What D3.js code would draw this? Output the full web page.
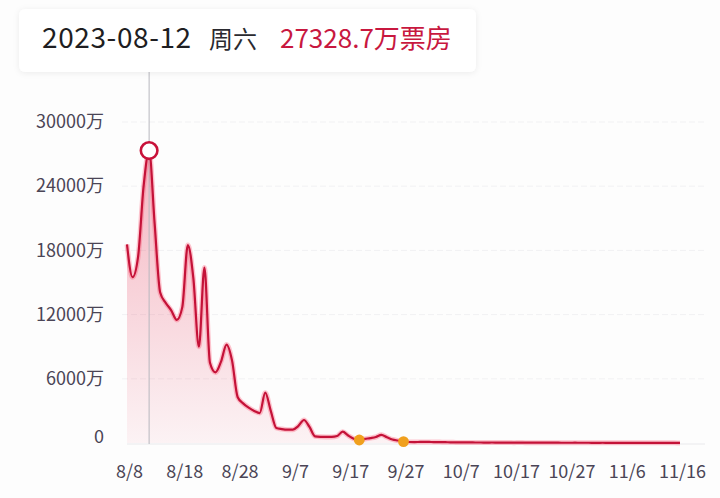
<!DOCTYPE html>
<html>
<head>
<meta charset="utf-8">
<script src="https://cdn.jsdelivr.net/npm/d3@7/dist/d3.min.js"></script>
<style>
  html, body { margin: 0; padding: 0; background: #fdfdfd; }
  svg { display: block; }
  text { font-family: "Noto Sans CJK SC", "Noto Sans", sans-serif; }
</style>
</head>
<body>
<svg id="chart" width="720" height="498"></svg>
<script>
// ---------- data ----------
const startDate = "2023-08-08";
// daily box office (万元), 8/8 .. 11/16
const boxOffice = [
  18560, 15500, 17400, 24000, 27328.7, 20500, 14060, 13100, 12400, 11500,
  12700, 18500, 15400, 9000, 16400, 7500, 6600, 7600, 9200, 7700,
  4300, 3700, 3300, 3000, 2800, 4700, 3000, 1400, 1300, 1250,
  1250, 1600, 2150, 1500, 620, 580, 570, 570, 650, 1060,
  700, 400, 280, 380, 460, 560, 760, 540, 330, 230,
  130, 95, 90, 100, 105, 95, 85, 80, 70, 60,
  55, 50, 52, 48, 45, 42, 45, 40, 38, 36,
  35, 38, 34, 32, 30, 28, 30, 27, 26, 25,
  24, 26, 23, 22, 21, 20, 22, 19, 18, 18,
  17, 18, 16, 15, 15, 14, 15, 13, 12, 12,
  11
];
const xTickLabels = ["8/8", "8/18", "8/28", "9/7", "9/17", "9/27", "10/7", "10/17", "10/27", "11/6", "11/16"];
const yTickValues = [0, 6000, 12000, 18000, 24000, 30000];
const yTickLabels = ["0", "6000万", "12000万", "18000万", "24000万", "30000万"];
const highlightDate = "2023-08-12";
const highlightWeekday = "周六";
const highlightValue = 27328.7;
const markerDates = ["2023-09-19", "2023-09-27"];

// ---------- setup ----------
const parse = d3.timeParse("%Y-%m-%d");
const t0 = parse(startDate);
const data = boxOffice.map((v, i) => ({ date: d3.timeDay.offset(t0, i), value: v }));
const tickDates = xTickLabels.map(s => { const [m, d] = s.split("/").map(Number); return new Date(2023, m - 1, d); });

const svg = d3.select("#chart");
const x = d3.scaleTime().domain([tickDates[0], tickDates[tickDates.length - 1]]).range([127, 680]);
const y = d3.scaleLinear().domain([0, 30000]).range([443, 122]);

const defs = svg.append("defs");
const grad = defs.append("linearGradient").attr("id", "areaGrad")
  .attr("gradientUnits", "userSpaceOnUse").attr("x1", 0).attr("x2", 0).attr("y1", 150).attr("y2", 443);
grad.append("stop").attr("offset", 0).attr("stop-color", "rgb(228,40,75)").attr("stop-opacity", 0.34);
grad.append("stop").attr("offset", 1).attr("stop-color", "rgb(228,40,75)").attr("stop-opacity", 0.05);

const shadow = defs.append("filter").attr("id", "shadow").attr("x", "-10%").attr("y", "-40%").attr("width", "120%").attr("height", "180%");
shadow.append("feDropShadow").attr("dx", 0).attr("dy", 1).attr("stdDeviation", 3)
  .attr("flood-color", "#000").attr("flood-opacity", 0.07);

// ---------- grid ----------
const yAxis = d3.axisLeft(y).tickValues(yTickValues).tickSize(0).tickPadding(0)
  .tickFormat((d, i) => yTickLabels[i]);
const gy = svg.append("g").attr("transform", "translate(104,0)").call(yAxis);
gy.select(".domain").remove();
gy.selectAll("text").attr("font-size", 18).attr("fill", "#4b4556").attr("text-anchor", "end")
  .attr("dy", d => d === 0 ? "-0.05em" : "0.32em");

svg.append("g").selectAll("line").data(yTickValues.filter(v => v > 0)).join("line")
  .attr("x1", 122).attr("x2", 705).attr("y1", d => y(d)).attr("y2", d => y(d))
  .attr("stroke", "#f1f1f3").attr("stroke-width", 1).attr("stroke-dasharray", "6,3");
svg.append("line").attr("x1", 127).attr("x2", 705).attr("y1", y(0) + 1).attr("y2", y(0) + 1)
  .attr("stroke", "#e9e9ec").attr("stroke-width", 1);

const xAxis = d3.axisBottom(x).tickValues(tickDates).tickSize(0).tickPadding(0)
  .tickFormat((d, i) => xTickLabels[i]);
const gx = svg.append("g").attr("transform", "translate(2,472)").call(xAxis);
gx.select(".domain").remove();
gx.selectAll("text").attr("font-size", 18).attr("fill", "#4b4556").attr("dy", "0.32em");

// ---------- area & line ----------
const area = d3.area().x(d => x(d.date)).y0(y(0)).y1(d => y(d.value)).curve(d3.curveMonotoneX);
const line = d3.line().x(d => x(d.date)).y(d => y(d.value)).curve(d3.curveMonotoneX);

svg.append("path").datum(data).attr("d", area).attr("fill", "url(#areaGrad)");

// crosshair
const hx = x(parse(highlightDate));
svg.append("line").attr("x1", hx).attr("x2", hx).attr("y1", 72).attr("y2", y(0) + 1)
  .attr("stroke", "#b8b8be").attr("stroke-width", 1);

svg.append("path").datum(data).attr("d", line).attr("fill", "none")
  .attr("stroke", "#ff3355").attr("stroke-opacity", 0.28).attr("stroke-width", 5).attr("stroke-linejoin", "round");
svg.append("path").datum(data).attr("d", line).attr("fill", "none")
  .attr("stroke", "#c41238").attr("stroke-width", 2.2).attr("stroke-linejoin", "round");

// markers
const markers = markerDates.map(s => data.find(d => +d.date === +parse(s)));
svg.append("g").selectAll("circle").data(markers).join("circle")
  .attr("cx", d => x(d.date)).attr("cy", d => y(d.value)).attr("r", 5.4)
  .attr("fill", "#f0a01e");

svg.append("circle").attr("cx", hx).attr("cy", y(highlightValue)).attr("r", 8.3)
  .attr("fill", "#fff").attr("stroke", "#c8123a").attr("stroke-width", 2.6);

// ---------- tooltip ----------
svg.append("rect").attr("x", 19).attr("y", 9).attr("width", 457).attr("height", 63).attr("rx", 6)
  .attr("fill", "#fff").attr("filter", "url(#shadow)");
svg.append("text").attr("x", 42).attr("y", 48).attr("font-size", 28).attr("letter-spacing", 0.6)
  .attr("fill", "#1e1e22").text(highlightDate);
svg.append("text").attr("x", 209).attr("y", 48).attr("font-size", 24).attr("fill", "#2a2a30")
  .text(highlightWeekday);
svg.append("text").attr("x", 280).attr("y", 48).attr("font-size", 26).attr("fill", "#c8183f")
  .text(highlightValue + "万票房");
</script>
</body>
</html>
